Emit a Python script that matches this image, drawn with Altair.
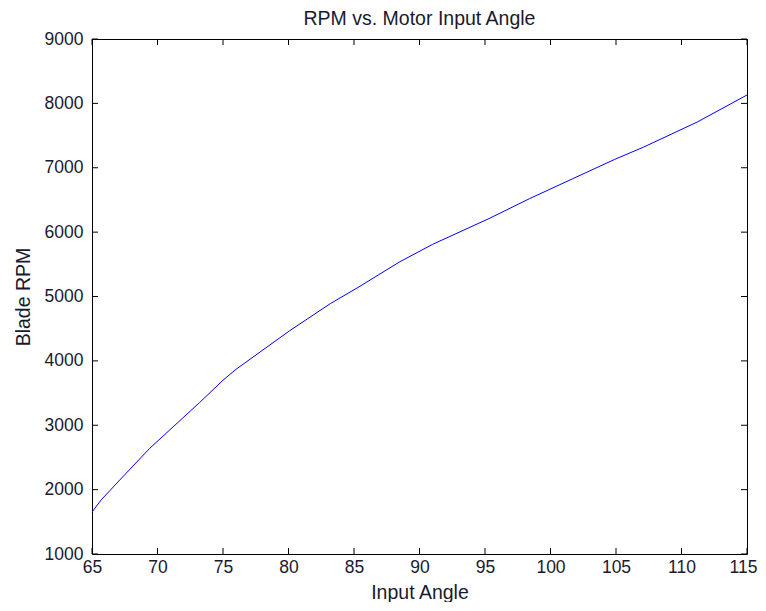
import altair as alt
import pandas as pd

# Data
angle = [65.0, 65.7, 67.4, 69.4, 72.5, 73.2, 75.0, 76.0, 80.1, 83.2, 85.3, 88.5,
         91.0, 95.3, 98.4, 101.7, 104.9, 107.1, 111.2, 115.0]
rpm = [1650, 1840, 2210, 2640, 3220, 3350, 3700, 3870, 4470, 4890, 5140, 5540,
       5810, 6210, 6520, 6830, 7130, 7320, 7710, 8130]

x_ticks = [65, 70, 75, 80, 85, 90, 95, 100, 105, 110, 115]
y_ticks = [1000, 2000, 3000, 4000, 5000, 6000, 7000, 8000, 9000]

W, H = 655, 515
TICK = 6
FONT = "Liberation Sans"
TXT = "#1a1a2e"

df = pd.DataFrame({"angle": angle, "rpm": rpm})
xdf = pd.DataFrame({"t": x_ticks})
ydf = pd.DataFrame({"t": y_ticks})

xscale = alt.Scale(domain=[65, 115], nice=False, zero=False)
yscale = alt.Scale(domain=[1000, 9000], nice=False, zero=False)


def xaxis():
    return alt.Axis(values=x_ticks, title="Input Angle", tickSize=0, format="d",
                    labelPadding=4, titlePadding=8, domain=False, grid=False,
                    labelFlush=False,
                    labelOffset=alt.condition("datum.value == 115", alt.value(-4), alt.value(0)))


def yaxis():
    return alt.Axis(values=y_ticks, title="Blade RPM", tickSize=0, format="d",
                    labelPadding=9, titlePadding=11, domain=False, grid=False,
                    labelFlush=False)


line = alt.Chart(df).mark_line(color="#0000ff", strokeWidth=1).encode(
    x=alt.X("angle:Q", scale=xscale, axis=xaxis()),
    y=alt.Y("rpm:Q", scale=yscale, axis=yaxis()),
)

xt_bottom = alt.Chart(xdf).mark_rule(color="black").encode(
    x=alt.X("t:Q", scale=xscale, axis=xaxis()), y=alt.value(H), y2=alt.value(H - TICK))
xt_top = alt.Chart(xdf).mark_rule(color="black").encode(
    x=alt.X("t:Q", scale=xscale, axis=xaxis()), y=alt.value(0), y2=alt.value(TICK))
yt_left = alt.Chart(ydf).mark_rule(color="black").encode(
    y=alt.Y("t:Q", scale=yscale, axis=yaxis()), x=alt.value(0), x2=alt.value(TICK))
yt_right = alt.Chart(ydf).mark_rule(color="black").encode(
    y=alt.Y("t:Q", scale=yscale, axis=yaxis()), x=alt.value(W), x2=alt.value(W - TICK))

chart = alt.layer(line, xt_bottom, xt_top, yt_left, yt_right).properties(
    width=W, height=H,
    title=alt.TitleParams("RPM vs. Motor Input Angle", fontSize=19.5, font=FONT,
                          fontWeight="normal", color=TXT, offset=0.5),
    autosize="none",
    padding={"left": 84, "top": 31, "right": 11, "bottom": 48},
).configure_view(
    stroke="black", strokeWidth=1
).configure_axis(
    labelFont=FONT, titleFont=FONT, labelFontSize=17.5, titleFontSize=19.5,
    labelColor=TXT, titleColor=TXT, titleFontWeight="normal"
)

chart.save("out.html", embed_options={"renderer": "svg", "actions": False})
